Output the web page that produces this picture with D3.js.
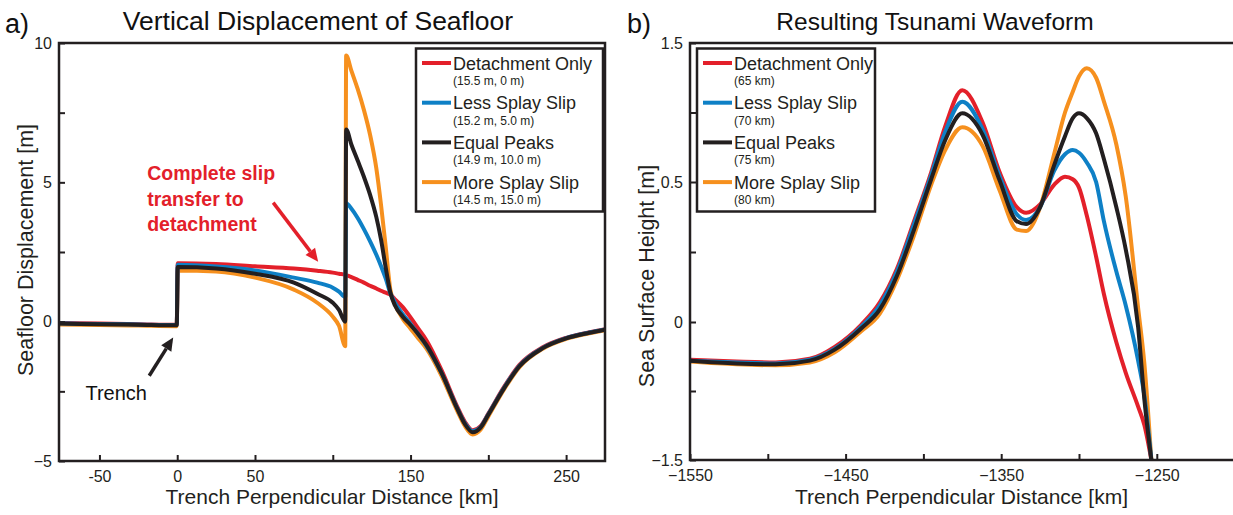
<!DOCTYPE html>
<html><head><meta charset="utf-8">
<script src="https://cdn.jsdelivr.net/npm/d3@7"></script>
<style>
body{margin:0;background:#fff;}
svg{display:block;font-family:"Liberation Sans",Arial,Helvetica,sans-serif;}
</style></head><body>
<svg id="chart" width="1233" height="515"></svg>
<script>
// ---------- data ----------
const seriesNames = ["Detachment Only","Less Splay Slip","Equal Peaks","More Splay Slip"];
const seriesColors = ["#e3202a","#0e80c6","#231f20","#f6901e"];
const leftNotes = ["(15.5 m, 0 m)","(15.2 m, 5.0 m)","(14.9 m, 10.0 m)","(14.5 m, 15.0 m)"];
const rightNotes = ["(65 km)","(70 km)","(75 km)","(80 km)"];

// Panel a: seafloor displacement [m] vs trench-perpendicular distance [km]
const leftX = [-76,-50,-25,-0.3,0.3,25,50,75,90,100,104,108,108.6,112,116,120,124,128,131,134,137,140,145,150,155,160,170,180,185,190,195,200,210,220,235,250,265,275];
const leftDetachOnly = [-0.05,-0.07,-0.09,-0.11,2.10,2.07,1.99,1.91,1.83,1.76,1.72,1.68,1.67,1.60,1.50,1.40,1.29,1.19,1.11,1.04,0.97,0.80,0.52,0.15,-0.25,-0.65,-1.75,-3.05,-3.6,-3.9,-3.75,-3.3,-2.35,-1.55,-0.92,-0.58,-0.38,-0.27];
const leftLessSplay = [-0.06,-0.08,-0.10,-0.12,2.04,1.98,1.84,1.58,1.40,1.22,1.08,0.88,4.25,4.05,3.72,3.32,2.88,2.40,2.00,1.55,1.02,0.68,0.27,-0.08,-0.45,-0.85,-1.85,-3.10,-3.65,-3.93,-3.78,-3.32,-2.38,-1.58,-0.94,-0.59,-0.39,-0.28];
const leftEqualPeaks = [-0.07,-0.09,-0.11,-0.13,1.96,1.91,1.72,1.40,1.00,0.68,0.42,0.00,6.90,6.35,5.78,5.20,4.55,3.75,2.95,1.95,1.05,0.58,0.18,-0.12,-0.45,-0.82,-1.85,-3.12,-3.68,-3.97,-3.80,-3.34,-2.40,-1.60,-0.95,-0.60,-0.40,-0.29];
const leftMoreSplay = [-0.10,-0.12,-0.14,-0.16,1.84,1.80,1.58,1.15,0.68,0.18,-0.15,-0.88,9.55,9.00,8.35,7.60,6.70,5.50,4.20,2.70,1.15,0.62,0.10,-0.25,-0.60,-0.95,-1.95,-3.20,-3.75,-4.05,-3.88,-3.40,-2.44,-1.63,-0.97,-0.62,-0.42,-0.31];

// Panel b: sea surface height [m] vs trench-perpendicular distance [km]
const rightX = [-1550,-1520,-1495,-1473,-1457,-1440,-1428,-1417,-1406,-1395,-1386,-1375,-1362,-1351,-1340,-1334,-1325,-1316,-1309,-1304,-1300,-1295,-1289,-1284,-1276,-1270,-1262,-1258,-1253.5];
const rightDetachOnly = [-0.41,-0.43,-0.44,-0.40,-0.27,-0.03,0.07,0.19,0.36,0.57,0.90,1.16,0.93,0.57,0.41,0.39,0.42,0.49,0.538,0.52,0.48,0.38,0.233,0.10,-0.22,-0.55,-0.92,-1.12,-1.5];
const rightLessSplay = [-0.42,-0.44,-0.45,-0.41,-0.29,-0.05,0.06,0.18,0.35,0.55,0.86,1.078,0.88,0.54,0.385,0.364,0.41,0.58,0.70,0.73,0.71,0.64,0.50,0.36,0.18,0.06,-0.42,-0.80,-1.5];
const rightEqualPeaks = [-0.42,-0.45,-0.46,-0.42,-0.30,-0.07,0.045,0.165,0.33,0.52,0.80,0.994,0.84,0.51,0.36,0.35,0.41,0.62,0.83,0.96,0.994,0.96,0.85,0.665,0.41,0.26,-0.054,-0.84,-1.5];
const rightMoreSplay = [-0.43,-0.46,-0.47,-0.44,-0.33,-0.10,0.03,0.15,0.31,0.49,0.73,0.894,0.76,0.47,0.33,0.325,0.41,0.70,1.00,1.15,1.26,1.318,1.25,1.08,0.77,0.45,0.05,-0.45,-1.5];

const leftXTicks = [-50,0,50,100,150,200,250];
const leftXLabels = ["-50","0","50","","150","","250"];
const leftYTicks = [-5,-2.5,0,2.5,5,7.5,10];
const leftYLabels = ["\u22125","","0","","5","","10"];
const rightXTicks = [-1550,-1500,-1450,-1400,-1350,-1300,-1250];
const rightXLabels = ["\u22121550","","\u22121450","","\u22121350","","\u22121250"];
const rightYTicks = [-1.5,-0.75,0,0.25,0.5,1,1.5];
const rightYLabels = ["\u22121.5","","0","","0.5","","1.5"];

const leftSeries = [leftDetachOnly,leftLessSplay,leftEqualPeaks,leftMoreSplay];
const rightSeries = [rightDetachOnly,rightLessSplay,rightEqualPeaks,rightMoreSplay];
const drawOrder = [3,0,1,2];

// ---------- drawing ----------
const ink = "#231f20";
const svg = d3.select("#chart");
const defs = svg.append("defs");

const xL = d3.scaleLinear().domain([-76,275]).range([59,605]);
const yL = d3.scaleLinear().domain([-5,10]).range([461,43]);
const xR = d3.scaleLinear().domain([-1550,-1200]).range([690,1234.6]);
const yR = d3.scaleLinear().domain([-1.5,0,0.5,1.5]).range([460,322,182,43]);

function panel(o) {
  const xs=o.xs, ys=o.ys;
  const [x0,x1] = xs.range(); const r = ys.range(); const y1 = r[0], y0 = r[r.length-1];
  defs.append("clipPath").attr("id","clip"+o.id).append("rect")
    .attr("x",x0).attr("y",y0).attr("width",x1-x0).attr("height",y1-y0);
  const g = svg.append("g");
  const line = d3.line().x(d=>xs(d[0])).y(d=>ys(d[1])).curve(d3.curveMonotoneX);
  const lg = g.append("g").attr("clip-path","url(#clip"+o.id+")");
  drawOrder.forEach(i=>{
    lg.append("path").datum(o.xVals.map((x,k)=>[x,o.series[i][k]]))
      .attr("d",line).attr("fill","none").attr("stroke",seriesColors[i])
      .attr("stroke-width",4).attr("stroke-linejoin","round").attr("stroke-linecap","butt");
  });
  const ax = d3.axisBottom(xs).tickValues(o.xT).tickSizeInner(-6).tickSizeOuter(0).tickPadding(10)
    .tickFormat((d,i)=>o.xLab[i]);
  const axg = g.append("g").attr("transform",`translate(0,${y1})`).call(ax);
  const ay = d3.axisLeft(ys).tickValues(o.yT).tickSizeInner(-6).tickSizeOuter(0).tickPadding(7)
    .tickFormat((d,i)=>o.yLab[i]);
  const ayg = g.append("g").attr("transform",`translate(${x0},0)`).call(ay);
  [axg,ayg].forEach(a=>{
    a.select(".domain").remove();
    a.selectAll(".tick line").attr("stroke",ink).attr("stroke-width",2);
    a.selectAll(".tick text").attr("fill",ink).attr("font-size",16)
      .attr("font-family",'"Liberation Sans",Arial,sans-serif');
  });
  g.append("rect").attr("x",x0).attr("y",y0).attr("width",x1-x0).attr("height",y1-y0)
    .attr("fill","none").attr("stroke",ink).attr("stroke-width",2.5);
  // legend
  const lgd = g.append("g");
  lgd.append("rect").attr("x",o.legendX).attr("y",48.5).attr("width",o.legendW).attr("height",163)
    .attr("fill","#fff").attr("stroke",ink).attr("stroke-width",2.5);
  seriesNames.forEach((n,i)=>{
    const cy = 63 + i*39.7;
    lgd.append("line").attr("x1",o.legendX+6).attr("x2",o.legendX+35).attr("y1",cy).attr("y2",cy)
      .attr("stroke",seriesColors[i]).attr("stroke-width",4);
    lgd.append("text").attr("x",o.legendX+37).attr("y",cy+6.5).attr("font-size",18).attr("fill",ink).text(n);
    lgd.append("text").attr("x",o.legendX+37).attr("y",cy+22).attr("font-size",12).attr("fill",ink).text(o.notes[i]);
  });
  svg.append("text").attr("x",o.titleX).attr("y",30)
    .attr("text-anchor","middle").attr("font-size",o.titleSize).attr("fill","#111").text(o.title);
  svg.append("text").attr("x",o.tagX).attr("y",33).attr("font-size",27).attr("fill","#111").text(o.tag);
  svg.append("text").attr("x",(x0+Math.min(x1,1233))/2).attr("y",504)
    .attr("text-anchor","middle").attr("font-size",21).attr("fill",ink).text(o.xTitle);
  svg.append("text").attr("transform",`translate(${o.yTitleX},${o.yTitleY}) rotate(-90)`)
    .attr("text-anchor","middle").attr("font-size",21.5).attr("fill",ink).text(o.yTitle);
}

panel({id:"L", xs:xL, ys:yL, xVals:leftX, series:leftSeries, xT:leftXTicks, xLab:leftXLabels,
  yT:leftYTicks, yLab:leftYLabels, notes:leftNotes, legendX:416, legendW:187,
  xTitle:"Trench Perpendicular Distance [km]", yTitle:"Seafloor Displacement [m]",
  title:"Vertical Displacement of Seafloor", titleX:318, titleSize:26.5, tag:"a)", tagX:5, yTitleX:33, yTitleY:250});
panel({id:"R", xs:xR, ys:yR, xVals:rightX, series:rightSeries, xT:rightXTicks, xLab:rightXLabels,
  yT:rightYTicks, yLab:rightYLabels, notes:rightNotes, legendX:697, legendW:178,
  xTitle:"Trench Perpendicular Distance [km]", yTitle:"Sea Surface Height [m]",
  title:"Resulting Tsunami Waveform", titleX:935, titleSize:24.5, tag:"b)", tagX:627, yTitleX:654, yTitleY:276});

// ---------- annotations (placed in data units of panel a) ----------
const redNote = ["Complete slip","transfer to","detachment"];
const redNoteAt = {x:-19.3, y:[5.09,4.16,3.26]};
const redArrow = {from:[61.7,4.27], to:[90.6,2.15]};
const trenchArrow = {from:[-18,-1.94], to:[-2.6,-0.57]};
const trenchLabelAt = {x:-59, y:-2.8};

function arrow(a, color) {
  const x1=xL(a.from[0]), y1=yL(a.from[1]), x2=xL(a.to[0]), y2=yL(a.to[1]);
  const ang = Math.atan2(y2-y1,x2-x1), hl=13, hw=6;
  const bx = x2 - hl*Math.cos(ang), by = y2 - hl*Math.sin(ang);
  svg.append("line").attr("x1",x1).attr("y1",y1).attr("x2",bx).attr("y2",by)
    .attr("stroke",color).attr("stroke-width",3.5);
  const px = -Math.sin(ang)*hw, py = Math.cos(ang)*hw;
  svg.append("path").attr("d",`M${x2},${y2}L${bx+px},${by+py}L${bx-px},${by-py}Z`).attr("fill",color);
}
redNote.forEach((t,i)=>{
  svg.append("text").attr("x",xL(redNoteAt.x)).attr("y",yL(redNoteAt.y[i]))
    .attr("font-size",19.5).attr("font-weight","bold").attr("fill","#e3202a").text(t);
});
arrow(redArrow,"#e3202a");
arrow(trenchArrow,ink);
svg.append("text").attr("x",xL(trenchLabelAt.x)).attr("y",yL(trenchLabelAt.y))
  .attr("font-size",20).attr("fill","#111").text("Trench");
</script>
</body></html>
